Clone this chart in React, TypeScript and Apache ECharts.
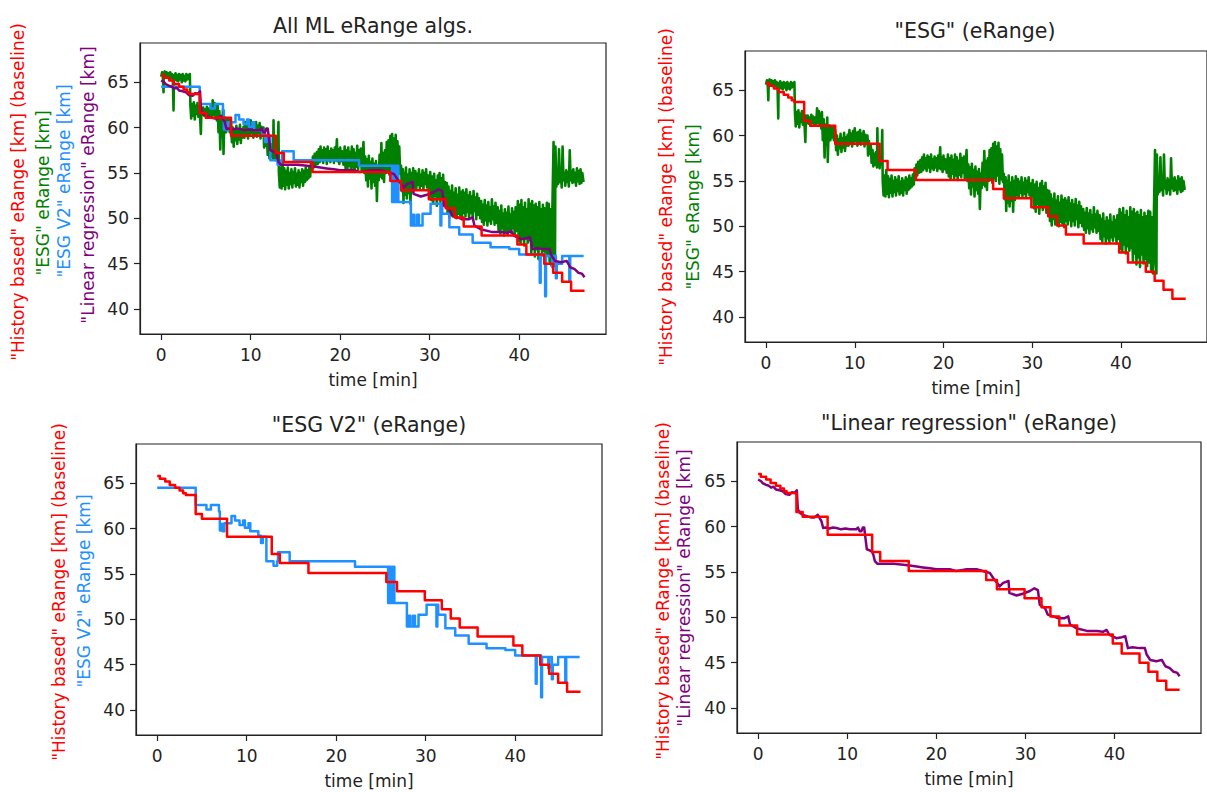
import React, { useEffect, useRef } from "react";
import * as echarts from "echarts";

// ---- data (time [min], eRange [km]) ----
const historyBased: number[][] = [
  [0, 65.8], [0.3, 65.5], [0.9, 65.2], [1.4, 64.8], [2.0, 64.5], [2.5, 64.2], [2.9, 63.9], [3.2, 63.7],
  [4.3, 61.6], [5.0, 61.1], [7.8, 59.1], [12.8, 57.2], [13.7, 56.2], [16.9, 55.1], [25.6, 54.1],
  [26.8, 53.1], [29.9, 52.1], [31.8, 51.1], [32.8, 50.1], [33.8, 49.1], [35.8, 48.1], [39.8, 47.1],
  [40.8, 46.0], [42.8, 45.0], [43.8, 44.0], [44.8, 43.0], [45.8, 42.0], [47.3, 42.0],
];

const esgV2: number[][] = [
  [0, 64.5], [4.3, 62.6], [5.5, 62.1], [6.0, 62.6], [6.9, 61.9], [7.0, 59.8], [7.2, 60.5], [7.3, 59.7],
  [7.5, 60.6], [8.3, 61.4], [8.7, 60.9], [9.2, 60.4], [9.6, 60.9], [9.8, 60.1], [10.2, 60.6], [10.4, 59.7],
  [11.3, 59.2], [11.6, 58.4], [11.8, 59.1], [12.2, 56.4], [13.0, 55.9], [13.4, 56.4], [13.5, 57.4],
  [14.8, 56.4], [22.1, 55.8], [25.8, 51.8], [25.9, 55.8], [26.1, 51.8], [26.3, 55.8], [26.5, 51.8],
  [27.9, 49.2], [28.1, 50.4], [28.3, 49.2], [28.6, 50.4], [28.8, 49.2], [29.2, 50.5], [30.1, 51.6],
  [31.2, 49.2], [31.3, 51.6], [31.4, 50.5], [32.2, 49.0], [33.3, 48.2], [34.8, 47.3], [36.8, 46.8],
  [38.9, 46.6], [40.0, 46.0], [42.3, 42.9], [42.4, 46.0], [42.9, 41.4], [43.0, 45.85], [43.7, 44.6],
  [43.8, 45.85], [44.1, 43.4], [44.2, 45.0], [44.8, 45.85], [45.6, 43.1], [45.7, 45.85], [47.2, 45.85],
];

const linearRegression: number[][] = [
  [0, 65.2], [0.34, 65.0], [0.5, 64.8], [0.9, 64.6], [1.2, 64.5], [1.46, 64.3], [1.7, 64.4], [2.0, 64.1],
  [2.4, 64.0], [2.77, 63.9], [3.1, 63.6], [3.5, 63.5], [3.8, 63.8], [4.1, 63.7], [4.34, 64.0], [4.46, 61.9],
  [4.7, 61.5], [5.0, 61.3], [5.3, 61.2], [5.6, 61.1], [6.0, 61.0], [6.3, 61.0], [6.7, 61.3], [7.1, 60.6],
  [7.3, 59.85], [7.6, 59.9], [8.0, 59.8], [8.4, 59.9], [8.8, 59.85], [9.3, 59.7], [9.8, 59.8], [10.3, 59.7],
  [10.7, 59.7], [11.0, 59.7], [11.2, 59.9], [11.4, 59.5], [11.6, 59.5], [11.75, 59.9], [11.9, 59.9],
  [12.2, 57.5], [12.7, 57.3], [12.9, 57.0], [13.1, 56.2], [13.4, 55.9], [14.4, 55.9], [15.2, 55.9],
  [16.3, 55.8], [17.0, 55.7], [17.8, 55.6], [18.5, 55.5], [19.3, 55.4], [20.0, 55.3], [21.5, 55.3],
  [22.2, 55.1], [22.8, 55.2], [23.4, 55.3], [24.0, 55.3], [24.5, 55.3], [25.2, 55.1], [25.6, 55.0],
  [26.0, 54.9], [26.4, 54.3], [26.8, 53.8], [27.1, 53.4], [27.5, 53.8], [28.1, 54.0], [28.2, 52.7],
  [29.0, 52.4], [29.7, 52.6], [30.5, 52.9], [31.0, 53.2], [31.4, 53.0], [31.6, 51.4], [32.2, 51.0],
  [32.5, 50.3], [33.1, 50.1], [33.7, 49.9], [34.4, 49.9], [34.8, 50.1], [35.0, 49.2], [35.7, 48.8],
  [36.9, 48.5], [38.0, 48.5], [38.7, 48.4], [39.1, 48.6], [39.4, 48.1], [40.2, 47.7], [40.8, 47.8],
  [41.2, 47.9], [41.5, 46.6], [42.0, 46.7], [42.8, 46.6], [43.4, 46.6], [43.6, 45.9], [44.0, 45.3],
  [44.7, 45.15], [45.3, 45.3], [45.7, 44.6], [46.2, 44.4], [46.6, 44.0], [47.0, 43.9], [47.3, 43.5],
];

const esg: number[][] = [
  [0.0, 65.6], [0.1, 66.1], [0.2, 65.4], [0.26, 63.9], [0.3, 65.9], [0.4, 66.2], [0.5, 65.5], [0.6, 66.1],
  [0.7, 65.6], [0.8, 66.0], [0.9, 65.3], [1.0, 66.1], [1.1, 65.5], [1.2, 65.9], [1.3, 65.2], [1.38, 61.9],
  [1.42, 65.8], [1.5, 65.3], [1.6, 66.0], [1.7, 65.2], [1.8, 65.8], [1.9, 65.1], [2.0, 65.9], [2.1, 65.3],
  [2.2, 65.8], [2.3, 65.0], [2.4, 65.9], [2.5, 65.2], [2.6, 65.7], [2.7, 65.1], [2.8, 65.9], [2.9, 65.3],
  [3.0, 65.8], [3.1, 65.4], [3.2, 65.9], [3.26, 62.5], [3.35, 61.0], [3.45, 62.6], [3.55, 61.3],
  [3.65, 62.8], [3.75, 60.9], [3.85, 62.4], [3.95, 61.5], [4.05, 62.7], [4.15, 61.2], [4.25, 62.3],
  [4.35, 61.0], [4.43, 59.3], [4.5, 62.2], [4.6, 61.4], [4.7, 62.2], [4.8, 61.3], [4.9, 62.0], [5.0, 61.1],
  [5.1, 62.3], [5.2, 61.4], [5.3, 62.1], [5.4, 61.2], [5.5, 62.0], [5.66, 61.3], [5.75, 63.0], [5.85, 61.4],
  [5.95, 62.7], [6.05, 61.1], [6.15, 62.4], [6.22, 60.8], [6.3, 62.6], [6.4, 59.5], [6.5, 61.8], [6.6, 57.6],
  [6.7, 61.2], [6.8, 59.0], [6.9, 62.0], [6.96, 57.1], [7.05, 60.5], [7.15, 61.1], [7.25, 59.5], [7.35, 61.0],
  [7.45, 59.8], [7.55, 60.9], [7.65, 59.5], [7.8, 60.6], [7.9, 58.4], [8.0, 60.0], [8.1, 57.9], [8.2, 59.6],
  [8.3, 58.6], [8.4, 60.2], [8.5, 58.2], [8.6, 59.7], [8.7, 58.7], [8.8, 60.3], [8.9, 58.3], [9.0, 59.8],
  [9.1, 58.9], [9.2, 60.1], [9.3, 58.9], [9.4, 60.6], [9.5, 59.3], [9.6, 60.2], [9.7, 58.8], [9.8, 60.5],
  [9.9, 59.2], [10.0, 60.8], [10.1, 59.4], [10.2, 60.3], [10.3, 58.9], [10.4, 60.4], [10.5, 59.3],
  [10.6, 60.6], [10.7, 59.0], [10.8, 60.2], [10.9, 59.4], [11.0, 60.5], [11.1, 58.8], [11.2, 60.1],
  [11.3, 59.2], [11.43, 60.0], [11.5, 57.8], [11.6, 59.4], [11.7, 58.0], [11.8, 59.0], [11.9, 57.0],
  [12.0, 58.4], [12.1, 56.6], [12.2, 58.0], [12.3, 56.8], [12.4, 58.2], [12.5, 56.5], [12.55, 60.8],
  [12.6, 57.0], [12.7, 58.1], [12.8, 56.4], [12.92, 57.6], [13.0, 56.9], [13.1, 60.6], [13.15, 55.0],
  [13.25, 53.4], [13.35, 55.6], [13.45, 53.3], [13.55, 56.2], [13.65, 53.6], [13.75, 55.5], [13.85, 53.2],
  [13.95, 55.2], [14.05, 53.7], [14.15, 55.6], [14.25, 53.3], [14.35, 55.0], [14.45, 53.8], [14.55, 55.4],
  [14.65, 53.4], [14.75, 55.1], [14.85, 53.9], [14.95, 55.5], [15.05, 53.5], [15.15, 54.9], [15.25, 53.7],
  [15.35, 55.3], [15.45, 53.4], [15.55, 55.0], [15.65, 54.0], [15.75, 55.4], [15.85, 53.6], [15.95, 55.2],
  [16.05, 54.0], [16.15, 55.6], [16.25, 54.2], [16.35, 55.3], [16.45, 54.4], [16.55, 55.7], [16.65, 54.6],
  [16.75, 56.4], [16.85, 55.3], [16.95, 56.8], [17.05, 55.6], [17.15, 57.1], [17.25, 55.9], [17.39, 57.3],
  [17.5, 56.0], [17.6, 57.6], [17.7, 56.2], [17.8, 57.9], [17.9, 56.4], [18.0, 57.5], [18.1, 56.1],
  [18.2, 57.8], [18.3, 56.5], [18.4, 57.6], [18.5, 56.0], [18.6, 57.9], [18.7, 56.4], [18.8, 57.4],
  [18.9, 56.2], [19.0, 57.7], [19.1, 56.5], [19.2, 57.5], [19.3, 56.1], [19.4, 57.8], [19.5, 56.4],
  [19.63, 58.7], [19.7, 56.3], [19.8, 57.6], [19.9, 56.0], [20.0, 57.8], [20.1, 56.3], [20.2, 57.4],
  [20.37, 55.9], [20.5, 57.9], [20.6, 55.5], [20.7, 57.5], [20.8, 55.2], [20.9, 57.8], [21.0, 55.8],
  [21.1, 57.3], [21.2, 55.3], [21.3, 57.9], [21.4, 55.6], [21.5, 57.6], [21.6, 55.1], [21.7, 57.2],
  [21.8, 55.7], [21.9, 58.0], [22.0, 55.4], [22.1, 57.5], [22.2, 55.9], [22.3, 57.7], [22.4, 55.3],
  [22.6, 58.4], [22.7, 55.0], [22.8, 56.8], [22.9, 54.2], [23.0, 56.5], [23.1, 53.5], [23.2, 56.9],
  [23.3, 54.4], [23.4, 56.2], [23.5, 53.3], [23.6, 56.6], [23.7, 54.0], [23.8, 56.0], [23.9, 53.6],
  [24.0, 56.3], [24.1, 51.9], [24.2, 55.8], [24.3, 54.2], [24.4, 57.0], [24.5, 54.6], [24.6, 58.3],
  [24.7, 54.4], [24.8, 57.2], [24.9, 54.0], [25.0, 57.5], [25.1, 55.0], [25.2, 58.4], [25.3, 55.2],
  [25.4, 58.6], [25.5, 54.8], [25.6, 59.1], [25.7, 55.3], [25.8, 59.3], [25.9, 55.0], [26.0, 58.8],
  [26.1, 55.6], [26.2, 59.2], [26.3, 54.7], [26.4, 58.5], [26.5, 55.2], [26.6, 57.9], [26.7, 54.9],
  [26.8, 55.8], [26.9, 53.0], [27.0, 55.4], [27.07, 51.7], [27.15, 55.0], [27.25, 52.6], [27.35, 55.6],
  [27.45, 52.2], [27.55, 54.8], [27.65, 52.8], [27.75, 55.4], [27.85, 51.6], [27.95, 55.0], [28.05, 52.9],
  [28.15, 55.5], [28.3, 53.4], [28.4, 55.2], [28.5, 53.2], [28.6, 54.9], [28.7, 53.7], [28.8, 55.4],
  [28.9, 53.3], [29.0, 54.8], [29.1, 53.6], [29.2, 55.3], [29.3, 53.2], [29.4, 55.0], [29.5, 53.8],
  [29.6, 55.4], [29.7, 53.4], [29.8, 54.7], [29.9, 53.3], [30.06, 55.1], [30.2, 52.0], [30.3, 54.6],
  [30.4, 51.6], [30.5, 54.9], [30.6, 52.5], [30.7, 54.2], [30.8, 51.4], [30.9, 54.7], [31.0, 52.2],
  [31.1, 55.0], [31.2, 51.8], [31.3, 54.4], [31.4, 52.4], [31.5, 54.8], [31.6, 51.5], [31.7, 54.0],
  [31.8, 52.3], [31.92, 53.9], [32.0, 50.6], [32.1, 53.5], [32.2, 50.1], [32.3, 53.0], [32.4, 50.8],
  [32.5, 53.6], [32.6, 50.2], [32.7, 52.8], [32.8, 50.9], [32.9, 53.3], [33.0, 50.0], [33.1, 52.6],
  [33.2, 50.5], [33.3, 53.4], [33.4, 50.3], [33.5, 52.9], [33.6, 49.9], [33.7, 53.1], [33.78, 50.6],
  [33.9, 52.8], [34.0, 50.2], [34.1, 53.2], [34.2, 50.7], [34.3, 52.5], [34.4, 50.0], [34.5, 52.9],
  [34.6, 50.6], [34.7, 52.4], [34.8, 50.1], [34.9, 53.0], [35.0, 50.8], [35.1, 52.3], [35.2, 49.9],
  [35.3, 52.7], [35.4, 50.4], [35.5, 52.2], [35.64, 50.0], [35.75, 51.9], [35.85, 49.6], [35.95, 51.5],
  [36.05, 49.3], [36.15, 52.0], [36.25, 49.8], [36.35, 51.4], [36.45, 49.2], [36.55, 51.8], [36.65, 49.7],
  [36.75, 51.2], [36.85, 49.4], [36.95, 52.1], [37.05, 49.9], [37.15, 51.3], [37.25, 49.3], [37.35, 51.7],
  [37.5, 49.5], [37.6, 51.2], [37.7, 48.6], [37.8, 50.8], [37.9, 48.3], [38.0, 51.4], [38.1, 48.9],
  [38.2, 50.5], [38.3, 48.1], [38.4, 51.0], [38.5, 48.7], [38.6, 50.6], [38.7, 48.2], [38.8, 51.3],
  [38.9, 48.8], [39.0, 50.4], [39.1, 48.4], [39.2, 51.1], [39.3, 48.9], [39.4, 50.7], [39.5, 48.1],
  [39.6, 51.2], [39.74, 48.6], [39.85, 51.9], [39.95, 47.5], [40.05, 51.5], [40.15, 47.2], [40.25, 52.0],
  [40.35, 48.0], [40.45, 51.2], [40.55, 47.0], [40.65, 51.7], [40.75, 47.8], [40.85, 51.0], [40.95, 47.3],
  [41.05, 52.1], [41.15, 47.6], [41.23, 51.6], [41.35, 46.2], [41.45, 51.9], [41.55, 47.0], [41.65, 51.4],
  [41.75, 45.8], [41.85, 51.6], [41.95, 46.6], [42.05, 51.2], [42.15, 45.5], [42.25, 51.8], [42.35, 46.9],
  [42.45, 51.0], [42.55, 45.9], [42.65, 51.5], [42.75, 46.4], [42.85, 51.1], [42.95, 45.6], [43.09, 51.7],
  [43.2, 46.0], [43.3, 51.6], [43.4, 45.2], [43.5, 51.0], [43.6, 44.8], [43.7, 50.5], [43.84, 58.4],
  [43.9, 46.0], [44.0, 44.8], [44.05, 57.9], [44.15, 53.5], [44.25, 55.2], [44.35, 53.8], [44.45, 57.6],
  [44.55, 54.0], [44.65, 55.4], [44.75, 53.4], [44.85, 57.9], [44.95, 54.2], [45.05, 55.0], [45.15, 53.6],
  [45.25, 55.3], [45.35, 54.0], [45.45, 55.1], [45.55, 53.5], [45.65, 57.5], [45.75, 54.2], [45.85, 55.2],
  [45.95, 53.9], [46.05, 55.4], [46.15, 54.0], [46.25, 55.0], [46.35, 53.6], [46.45, 55.5], [46.55, 54.1],
  [46.65, 55.2], [46.75, 53.8], [46.85, 55.4], [46.95, 53.9], [47.05, 55.0], [47.19, 54.0],
];

const xTicks = [0, 10, 20, 30, 40];
const yTicks = [40, 45, 50, 55, 60, 65];

const titles = ["All ML eRange algs.", '"ESG" (eRange)', '"ESG V2" (eRange)', '"Linear regression" (eRange)'];
const yLabelTexts = {
  history: '"History based" eRange [km] (baseline)',
  esg: '"ESG" eRange [km]',
  esgV2: '"ESG V2" eRange [km]',
  linreg: '"Linear regression" eRange [km]',
};

const COLORS = { history: "#ff0000", esg: "#008000", esgV2: "#1e90ff", linreg: "#800080" };
const FONT = '"DejaVu Sans", Verdana, sans-serif';

export default function App() {
  const ref = useRef<HTMLDivElement>(null);
  useEffect(() => {
    if (!ref.current) return;
    const chart = echarts.init(ref.current, undefined, { renderer: "svg" });

    const grids = [
      { left: 140, top: 43, width: 466, height: 291 },
      { left: 745, top: 51, width: 466, height: 291 },
      { left: 136, top: 444, width: 466, height: 291 },
      { left: 737, top: 442, width: 464, height: 291 },
    ];

    const axisCommon = {
      axisLine: { show: true, onZero: false, lineStyle: { color: "#222", width: 1.2 } },
      axisTick: { show: true, inside: false, length: 6, lineStyle: { color: "#222", width: 1.2 } },
      splitLine: { show: false },
    };

    const xAxes = grids.map((_, i) => ({
      type: "value",
      gridIndex: i,
      min: -2.37,
      max: 49.7,
      ...axisCommon,
      axisTick: { ...axisCommon.axisTick, customValues: xTicks },
      axisLabel: { customValues: xTicks, margin: 12, fontSize: 17, color: "#222", fontFamily: FONT },
      name: "time [min]",
      nameLocation: "middle",
      nameGap: 37,
      nameTextStyle: { fontSize: 17, color: "#222", fontFamily: FONT },
    }));
    const yAxes = grids.map((_, i) => ({
      type: "value",
      gridIndex: i,
      min: 37.24,
      max: 69.33,
      ...axisCommon,
      axisTick: { ...axisCommon.axisTick, customValues: yTicks },
      axisLabel: { customValues: yTicks, margin: 11, fontSize: 17, color: "#222", fontFamily: FONT },
    }));

    const mk = (name: string, data: number[][], color: string, idx: number, step: boolean, z: number, w: number) => ({
      type: "line",
      name,
      xAxisIndex: idx,
      yAxisIndex: idx,
      data,
      step: step ? "end" : false,
      showSymbol: false,
      symbol: "none",
      z,
      lineStyle: { color, width: w, join: "round" },
      itemStyle: { color },
    });

    const series = [
      mk("esg", esg, COLORS.esg, 0, false, 2, 2.6),
      mk("esgV2", esgV2, COLORS.esgV2, 0, true, 3, 2.5),
      mk("linreg", linearRegression, COLORS.linreg, 0, false, 4, 2.5),
      mk("history", historyBased, COLORS.history, 0, true, 5, 2.5),
      mk("esg", esg, COLORS.esg, 1, false, 2, 2.6),
      mk("history", historyBased, COLORS.history, 1, true, 5, 2.5),
      mk("esgV2", esgV2, COLORS.esgV2, 2, true, 3, 2.5),
      mk("history", historyBased, COLORS.history, 2, true, 5, 2.5),
      mk("linreg", linearRegression, COLORS.linreg, 3, false, 4, 2.5),
      mk("history", historyBased, COLORS.history, 3, true, 5, 2.5),
    ];

    const titlePos = [
      [373, 26],
      [975, 31],
      [369, 425],
      [969, 423],
    ];

    const ylabs: [string, string, number, number][] = [
      [yLabelTexts.history, COLORS.history, 18, 192],
      [yLabelTexts.esg, COLORS.esg, 42.5, 193],
      [yLabelTexts.esgV2, COLORS.esgV2, 64, 181],
      [yLabelTexts.linreg, COLORS.linreg, 87.5, 185],
      [yLabelTexts.history, COLORS.history, 666, 197],
      [yLabelTexts.esg, COLORS.esg, 693, 207],
      [yLabelTexts.history, COLORS.history, 58.5, 592],
      [yLabelTexts.esgV2, COLORS.esgV2, 84, 591],
      [yLabelTexts.history, COLORS.history, 663, 591],
      [yLabelTexts.linreg, COLORS.linreg, 684, 588],
    ];

    const graphic: any[] = [];
    titles.forEach((t, i) => {
      graphic.push({
        type: "text",
        x: titlePos[i][0],
        y: titlePos[i][1],
        style: {
          text: t,
          fill: "#222",
          fontSize: 20.5,
          fontFamily: FONT,
          align: "center",
          verticalAlign: "middle",
        },
      });
    });
    ylabs.forEach(([t, c, x, y]) => {
      graphic.push({
        type: "text",
        x,
        y,
        rotation: Math.PI / 2,
        style: {
          text: t,
          fill: c,
          fontSize: 17,
          fontFamily: FONT,
          align: "center",
          verticalAlign: "middle",
        },
      });
    });

    chart.setOption({
      animation: false,
      backgroundColor: "#ffffff",
      grid: grids.map((g) => ({ ...g, show: true, borderColor: "#222", borderWidth: 1.2, containLabel: false })),
      xAxis: xAxes,
      yAxis: yAxes,
      series,
      graphic,
    } as any);

    return () => chart.dispose();
  }, []);

  return (
    <div
      ref={ref}
      style={{ position: "absolute", left: 0, top: 0, width: 1207, height: 792, background: "#fff" }}
    />
  );
}
